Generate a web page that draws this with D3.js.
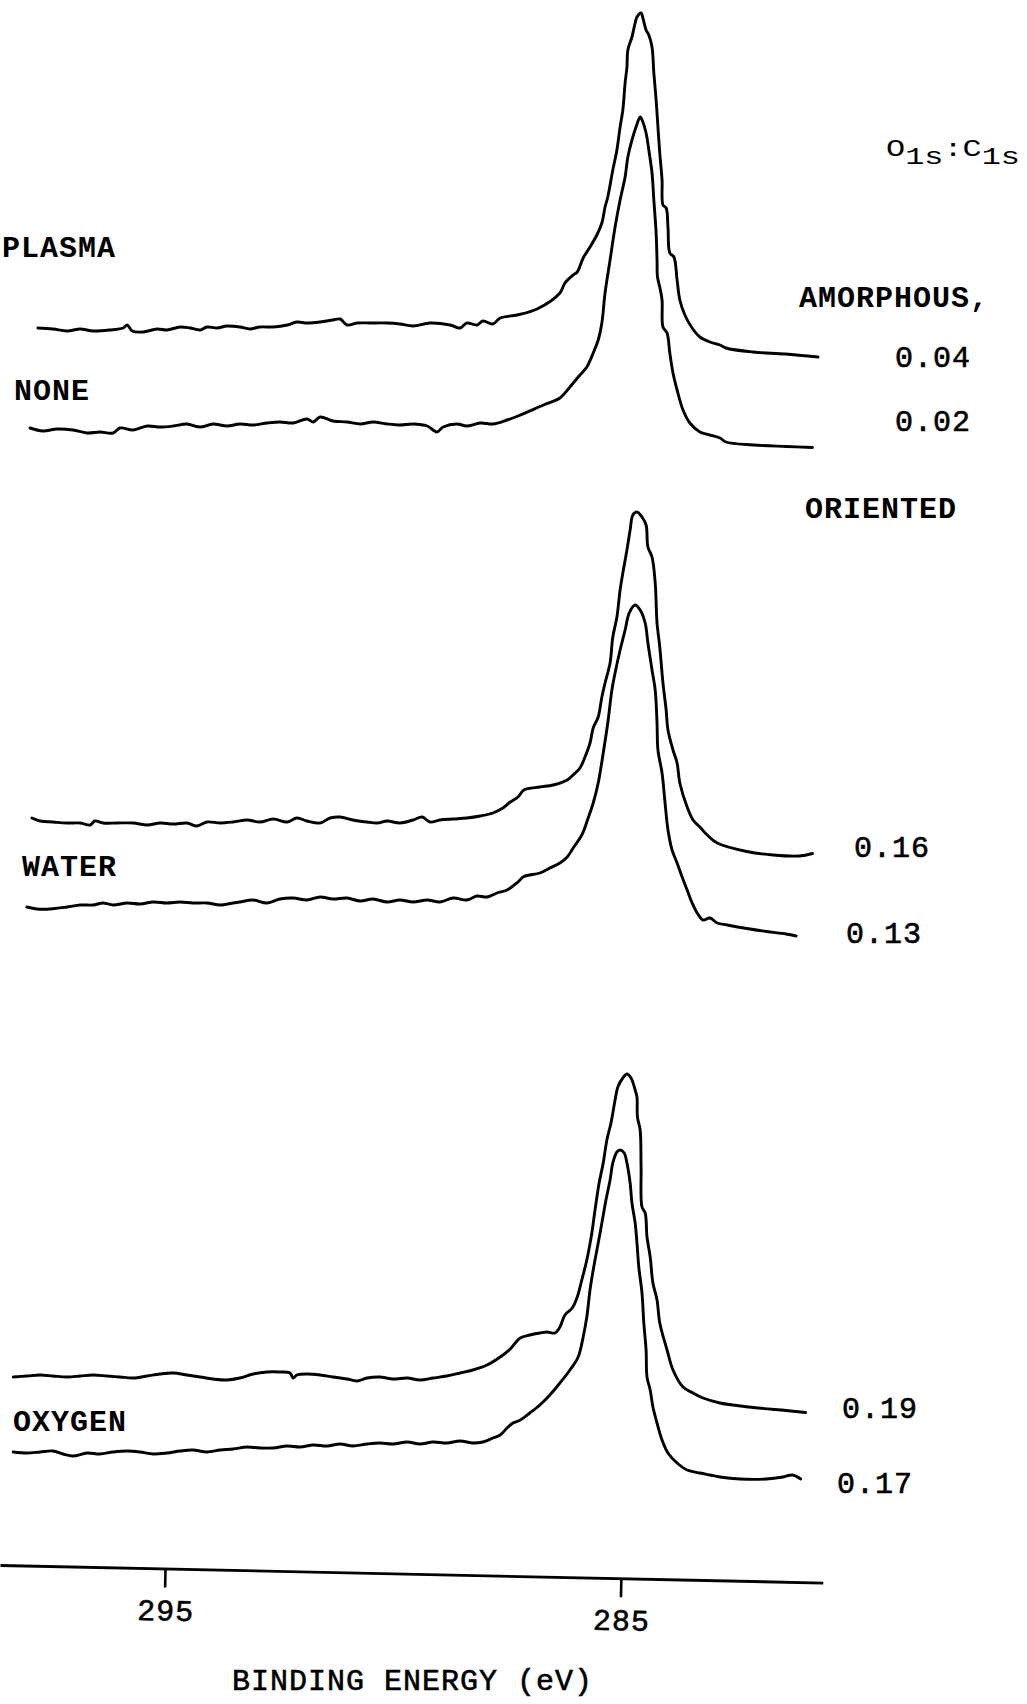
<!DOCTYPE html>
<html>
<head>
<meta charset="utf-8">
<script src="https://cdn.jsdelivr.net/npm/d3@7"></script>
<style>
  body { margin: 0; background: #fff; }
  svg { display: block; }
  .lbl { font-family: "Liberation Mono", monospace; font-size: 30px; letter-spacing: 1px; fill: #000; }
  .word { font-weight: bold; }
  .num { stroke: #000; stroke-width: 0.6px; }
</style>
</head>
<body>
<div id="chart"></div>
<script>
const width = 1027, height = 1704;

// binding energy (eV), intensity (arb. units, relative to each trace's baseline)
const noneAmorphous = [
  [297.79, 0], [297.46, -0.2], [297.15, -0.6], [296.86, -0.2], [296.58, -0.6], [296.21, -0.4], [295.92, 0],
  [295.83, 0.6], [295.72, -0.6], [295.48, -0.8], [295.18, -0.2], [294.96, -0.4], [294.67, 0.2], [294.45, 0],
  [294.23, -0.4], [294.08, 0.2], [293.86, 0], [293.64, 0.4], [293.36, 0.2], [293.14, -0.2], [292.92, 0.2],
  [292.63, 0.2], [292.32, 0.6], [292.11, 1.2], [291.89, 1.0], [291.60, 1.2], [291.32, 1.6], [291.16, 1.8],
  [291.01, 0.6], [290.79, 1.0], [290.50, 1.0], [290.13, 1.0], [289.85, 0.8], [289.56, 0.4], [289.19, 1.0],
  [288.75, 0.6], [288.53, 0], [288.38, 1.0], [288.16, 0.6], [288.03, 1.4], [287.81, 0.8], [287.65, 2.0],
  [287.28, 2.6], [286.84, 3.8], [286.34, 7.0], [286.23, 9.0], [286.05, 10.6], [285.96, 11.2], [285.83, 14.0],
  [285.68, 16.2], [285.53, 18.6], [285.42, 21.0], [285.35, 24.2], [285.29, 26.2], [285.18, 31.6], [285.09, 35.6],
  [285.02, 40.2], [284.96, 43.6], [284.91, 49.0], [284.87, 52.2], [284.85, 55.6], [284.76, 58.2], [284.69, 61.0],
  [284.65, 62.2], [284.56, 63.0], [284.52, 62.0], [284.45, 59.6], [284.39, 58.6], [284.32, 56.2], [284.28, 51.0],
  [284.23, 45.6], [284.19, 40.2], [284.15, 35.0], [284.10, 29.6], [284.08, 24.6], [284.01, 24.0], [283.97, 20.2],
  [283.93, 15.0], [283.84, 14.2], [283.77, 9.6], [283.71, 5.6], [283.60, 2.6], [283.44, 0], [283.27, -1.8],
  [283.05, -2.8], [282.83, -3.4], [282.70, -4.0], [282.11, -4.8], [281.40, -5.2], [280.68, -5.8]
];
const noneOriented = [
  [297.96, 0], [297.68, -0.6], [297.37, -0.2], [297.02, -0.4], [296.71, -1.0], [296.43, -0.8], [296.14, -1.0],
  [295.99, 0], [295.70, -0.4], [295.39, 0.4], [295.11, 0.2], [294.82, 0.4], [294.52, 0.8], [294.23, 0.2],
  [293.95, 0.8], [293.64, 0.4], [293.36, 0.8], [293.07, 0.6], [292.76, 1.0], [292.48, 1.2], [292.19, 1.0],
  [291.89, 1.8], [291.75, 1.2], [291.60, 2.2], [291.32, 1.4], [291.01, 1.2], [290.72, 0.8], [290.44, 1.2],
  [290.13, 0.8], [289.85, 0.6], [289.56, 0.8], [289.25, 0.4], [289.04, -0.8], [288.90, 0.2], [288.60, 0.8],
  [288.38, 0.4], [288.09, 1.0], [287.81, 0.8], [287.50, 1.6], [287.26, 2.4], [286.70, 4.6], [286.34, 6.0],
  [286.12, 8.2], [285.90, 10.6], [285.75, 12.2], [285.61, 15.0], [285.50, 17.6], [285.42, 21.0], [285.35, 27.0],
  [285.24, 33.6], [285.13, 40.2], [285.02, 45.6], [284.91, 50.2], [284.85, 54.2], [284.76, 57.6], [284.67, 60.2],
  [284.58, 62.2], [284.52, 61.2], [284.45, 59.0], [284.39, 55.6], [284.32, 51.0], [284.28, 45.6], [284.23, 39.0],
  [284.21, 33.6], [284.20, 30.2], [284.15, 28.2], [284.10, 25.6], [284.08, 20.2], [283.99, 19.0], [283.93, 15.0],
  [283.86, 11.0], [283.77, 7.6], [283.64, 3.6], [283.49, 1.0], [283.27, -0.8], [283.05, -1.4], [282.83, -2.0],
  [282.70, -2.8], [282.10, -3.4], [281.38, -3.7], [280.80, -3.9]
];
const waterAmorphous = [
  [297.92, 0.4], [297.74, -0.2], [297.46, -0.4], [297.15, -0.6], [296.86, -0.6], [296.64, -1.0], [296.54, -0.2],
  [296.36, -0.6], [296.05, -0.6], [295.70, -0.6], [295.39, -1.0], [295.11, -0.6], [294.82, -0.8], [294.52, -0.6],
  [294.30, -1.2], [294.08, -0.4], [293.79, -0.6], [293.51, -0.4], [293.20, 0], [292.92, -0.4], [292.63, 0.2],
  [292.32, -0.4], [292.11, 0.4], [291.89, -0.2], [291.60, -0.6], [291.38, 0.4], [291.16, 0.6], [290.88, 0],
  [290.57, -0.4], [290.35, -0.6], [290.13, -0.2], [289.85, -0.6], [289.56, 0], [289.36, 0.6], [289.19, -0.4],
  [288.97, 0], [288.68, 0.2], [288.38, 0.4], [288.09, 0.8], [287.81, 1.4], [287.59, 2.4], [287.43, 3.6],
  [287.26, 4.6], [287.13, 6.0], [286.78, 6.6], [286.49, 7.0], [286.18, 8.0], [286.05, 9.0], [285.90, 10.4],
  [285.79, 12.6], [285.68, 15.4], [285.61, 18.4], [285.50, 20.6], [285.42, 24.6], [285.35, 27.4], [285.24, 31.4],
  [285.18, 36.6], [285.09, 40.6], [285.02, 46.0], [284.96, 49.4], [284.87, 54.0], [284.80, 58.0], [284.74, 61.0],
  [284.65, 61.6], [284.54, 60.6], [284.45, 59.0], [284.41, 54.6], [284.32, 52.6], [284.25, 47.4], [284.21, 39.4],
  [284.15, 34.6], [284.08, 27.4], [284.01, 22.0], [283.97, 18.0], [283.86, 14.0], [283.77, 11.4], [283.71, 7.4],
  [283.55, 2.6], [283.42, 0], [283.27, -1.4], [283.11, -3.0], [282.89, -4.6], [282.24, -6.3], [281.67, -7.0],
  [281.09, -7.2], [280.80, -6.7]
];
const waterOriented = [
  [298.03, 0.2], [297.81, -0.2], [297.52, -0.2], [297.15, 0.2], [296.86, 0.6], [296.58, 0.6], [296.36, 1.0],
  [296.14, 0.6], [295.83, 1.0], [295.55, 0.8], [295.26, 1.2], [294.96, 1.0], [294.67, 1.2], [294.39, 1.0],
  [294.08, 1.0], [293.79, 0.6], [293.51, 1.0], [293.36, 1.2], [293.07, 1.6], [292.76, 1.0], [292.48, 1.8],
  [292.19, 2.0], [291.89, 1.6], [291.60, 2.2], [291.32, 1.8], [291.01, 2.0], [290.72, 1.4], [290.44, 1.8],
  [290.13, 1.2], [289.85, 1.6], [289.56, 1.2], [289.25, 1.6], [288.97, 1.2], [288.68, 2.0], [288.38, 1.6],
  [288.16, 2.4], [287.94, 2.2], [287.72, 3.0], [287.50, 3.6], [287.26, 5.2], [287.13, 6.3], [286.78, 7.0],
  [286.56, 8.0], [286.34, 9.0], [286.18, 10.2], [286.05, 12.0], [285.86, 14.6], [285.72, 18.0], [285.61, 21.0],
  [285.50, 25.0], [285.39, 31.0], [285.29, 37.0], [285.20, 43.6], [285.13, 47.0], [285.02, 51.6], [284.91, 55.6],
  [284.82, 59.0], [284.69, 60.6], [284.58, 59.6], [284.47, 57.0], [284.41, 53.0], [284.32, 47.6], [284.25, 43.6],
  [284.21, 37.0], [284.19, 31.6], [284.10, 27.0], [284.04, 21.6], [283.97, 15.6], [283.88, 11.6], [283.77, 9.0],
  [283.66, 6.2], [283.55, 3.6], [283.44, 1.0], [283.33, -1.0], [283.20, -2.4], [283.05, -2.0], [282.89, -3.0],
  [282.67, -3.4], [282.24, -4.1], [281.81, -4.7], [281.38, -5.2], [281.16, -5.6]
];
const oxygenAmorphous = [
  [298.33, -0.4], [298.03, -0.2], [297.74, 0], [297.46, -0.2], [297.15, -0.4], [296.86, -0.2], [296.58, 0],
  [296.27, -0.2], [295.99, -0.4], [295.70, -0.6], [295.39, -0.2], [295.11, 0.2], [294.82, 0.4], [294.52, 0],
  [294.23, -0.4], [293.95, -0.8], [293.64, -1.0], [293.36, -0.6], [293.07, 0.2], [292.76, 0.6], [292.48, 0.6],
  [292.26, 0.4], [292.19, -0.6], [292.11, 0], [291.89, 0.2], [291.60, 0], [291.32, -0.4], [291.01, -0.8],
  [290.79, -1.2], [290.57, -0.6], [290.29, -0.4], [290.00, -0.8], [289.69, -0.6], [289.41, -1.0], [289.12, -0.6],
  [288.82, -0.2], [288.53, 0.4], [288.25, 1.0], [287.94, 2.0], [287.65, 3.6], [287.43, 5.2], [287.21, 7.4],
  [287.00, 8.0], [286.78, 8.4], [286.62, 8.6], [286.45, 8.4], [286.34, 9.6], [286.23, 12.0], [286.07, 13.4],
  [285.96, 15.6], [285.86, 19.0], [285.75, 23.0], [285.64, 28.4], [285.57, 33.0], [285.48, 38.4], [285.39, 42.4],
  [285.31, 47.0], [285.22, 50.4], [285.13, 55.0], [285.07, 57.6], [284.96, 59.4], [284.87, 60.2], [284.78, 59.4],
  [284.69, 57.0], [284.65, 55.6], [284.64, 51.6], [284.58, 49.0], [284.56, 41.6], [284.54, 33.6], [284.47, 32.4],
  [284.43, 27.6], [284.36, 23.6], [284.30, 18.4], [284.21, 15.0], [284.15, 10.4], [283.99, 5.0], [283.86, 1.0],
  [283.64, -2.4], [283.42, -3.6], [283.20, -4.6], [282.83, -5.6], [282.10, -6.5], [281.38, -7.1], [280.95, -7.5]
];
const oxygenOriented = [
  [298.33, 0.6], [298.03, 0.4], [297.74, 0.6], [297.46, 0.8], [297.24, 0.2], [297.02, -0.2], [296.71, 0.4],
  [296.43, 0.2], [296.14, 0.6], [295.83, 0.8], [295.55, 0.6], [295.26, 0.2], [294.96, 0.4], [294.67, 0.8],
  [294.39, 1.0], [294.08, 0.6], [293.79, 1.0], [293.51, 1.2], [293.20, 1.6], [292.92, 1.4], [292.63, 1.4],
  [292.32, 1.8], [292.04, 1.6], [291.75, 2.0], [291.45, 1.8], [291.16, 2.2], [290.88, 1.8], [290.57, 2.2],
  [290.29, 2.4], [290.00, 2.2], [289.69, 2.6], [289.41, 2.2], [289.12, 2.6], [288.82, 2.4], [288.53, 2.8],
  [288.25, 2.4], [288.03, 2.6], [287.81, 3.4], [287.65, 4.0], [287.50, 5.4], [287.37, 6.4], [287.21, 7.0],
  [287.00, 8.4], [286.78, 10.0], [286.56, 12.0], [286.34, 14.4], [286.12, 17.0], [285.94, 19.6], [285.83, 23.6],
  [285.75, 27.6], [285.68, 33.0], [285.61, 37.0], [285.50, 42.4], [285.42, 46.4], [285.33, 51.0], [285.24, 55.0],
  [285.18, 58.4], [285.09, 60.6], [285.02, 61.0], [284.93, 60.4], [284.87, 58.4], [284.80, 54.4], [284.76, 50.4],
  [284.69, 46.4], [284.65, 42.4], [284.61, 37.6], [284.54, 32.4], [284.50, 26.4], [284.45, 21.0], [284.43, 15.6],
  [284.36, 13.0], [284.30, 9.6], [284.21, 6.4], [284.10, 3.0], [283.97, 0.4], [283.77, -1.6], [283.55, -3.0],
  [283.27, -3.6], [283.05, -4.0], [282.83, -4.4], [282.39, -4.8], [281.81, -4.8], [281.45, -4.4], [281.24, -4.0],
  [281.06, -4.8]
];

// stacking offsets (arb. units) for the six traces
const traces = [noneAmorphous, noneOriented, waterAmorphous, waterOriented, oxygenAmorphous, oxygenOriented];
const offsets = [254.4, 234.4, 156, 138.4, 45, 29];
const ratios = ["0.04", "0.02", "0.16", "0.13", "0.19", "0.17"];
const treatments = ["NONE", "WATER", "OXYGEN"];
const energyTicks = [295, 285];
const energyDomain = [298.62, 280.57];

const x = d3.scaleLinear().domain(energyDomain).range([0, 823]);
const y = d3.scaleLinear().domain([0, 320]).range([1600, 0]);

const svg = d3.select("#chart").append("svg")
  .attr("width", width)
  .attr("height", height);

svg.append("rect").attr("width", width).attr("height", height).attr("fill", "#fff");

const line = d3.line()
  .x(d => x(d[0]))
  .y(d => y(d[1]))
  .curve(d3.curveCatmullRom.alpha(0.5));

traces.forEach(function (t, i) {
  svg.append("path")
    .datum(t.map(d => [d[0], d[1] + offsets[i]]))
    .attr("d", line)
    .attr("fill", "none")
    .attr("stroke", "#000")
    .attr("stroke-width", 2.9)
    .attr("stroke-linejoin", "round")
    .attr("stroke-linecap", "round");
});

// axis (the scanned original is slightly tilted)
const axisG = svg.append("g")
  .attr("transform", "translate(0,1565) rotate(1.22)")
  .call(d3.axisBottom(x).tickValues(energyTicks).tickSize(19).tickSizeOuter(0).tickFormat(d3.format("d")));
axisG.attr("font-family", null).attr("font-size", null);
axisG.select(".domain").attr("stroke", "#000").attr("stroke-width", 2.8);
axisG.selectAll(".tick line").attr("stroke", "#000").attr("stroke-width", 2.6);
axisG.selectAll(".tick text")
  .attr("class", "lbl num")
  .attr("y", 52)
  .attr("dy", null)
  .attr("dx", 1);

svg.append("text").attr("class", "lbl num").attr("x", 232).attr("y", 1690).text("BINDING ENERGY (eV)");

// left labels
svg.append("text").attr("class", "lbl word").attr("x", 2).attr("y", 257).text("PLASMA");
const treatPos = [[14, 400], [22, 876], [13, 1431]];
treatments.forEach(function (t, i) {
  svg.append("text").attr("class", "lbl word").attr("x", treatPos[i][0]).attr("y", treatPos[i][1]).text(t);
});

// right labels
svg.append("text").attr("class", "lbl word").attr("x", 799).attr("y", 307).text("AMORPHOUS,");
svg.append("text").attr("class", "lbl word").attr("x", 805).attr("y", 518).text("ORIENTED");
const ratioPos = [[895, 367], [895, 431], [854, 857], [846, 943], [842, 1418], [837, 1493]];
ratios.forEach(function (r, i) {
  svg.append("text").attr("class", "lbl num").attr("x", ratioPos[i][0]).attr("y", ratioPos[i][1]).text(r);
});

const head = svg.append("text")
  .attr("x", 886).attr("y", 156)
  .attr("textLength", 134)
  .attr("lengthAdjust", "spacingAndGlyphs")
  .style("font-family", "'Liberation Mono', monospace")
  .style("font-size", "23px");
head.append("tspan").text("O");
head.append("tspan").attr("dy", 8).text("1s");
head.append("tspan").attr("dy", -8).text(":");
head.append("tspan").text("C");
head.append("tspan").attr("dy", 8).text("1s");
</script>
</body>
</html>
